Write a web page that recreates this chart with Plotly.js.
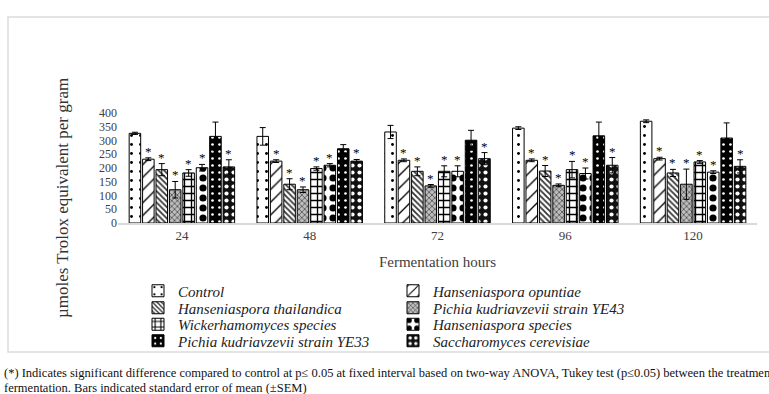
<!DOCTYPE html>
<html>
<head>
<meta charset="utf-8">
<script src="https://cdn.plot.ly/plotly-3.0.1.min.js"></script>
<style>html,body{margin:0;padding:0;background:#fff;}#chart{width:769px;height:394px;}</style>
</head>
<body>
<div id="chart"></div>
<script>
// ---- Data ----
const hours = ['24', '48', '72', '96', '120'];
const seriesNames = [
  'Control',
  'Hanseniaspora opuntiae',
  'Hanseniaspora thailandica',
  'Pichia kudriavzevii strain YE43',
  'Wickerhamomyces species',
  'Hanseniaspora species',
  'Pichia kudriavzevii strain YE33',
  'Saccharomyces cerevisiae'
];
const control      = [326, 315, 331, 345, 370];
const hOpuntiae    = [232, 225, 228, 228, 234];
const hThailandica = [194, 141, 188, 189, 182];
const pkYE43       = [121, 121, 135, 137, 141];
const wickerham    = [182, 198, 188, 194, 222];
const hSpecies     = [201, 210, 188, 180, 185];
const pkYE33       = [315, 270, 301, 317, 309];
const sCerevisiae  = [204, 225, 234, 210, 206];

const errControl      = [4, 32, 24, 5, 5];
const errOpuntiae     = [5, 5, 5, 5, 5];
const errThailandica  = [22, 20, 16, 20, 13];
const errYE43         = [30, 10, 5, 5, 55];
const errWickerham    = [12, 6, 20, 30, 5];
const errSpecies      = [12, 6, 20, 20, 5];
const errYE33         = [52, 15, 36, 50, 55];
const errCerevisiae   = [26, 6, 22, 28, 24];

// significance flags (asterisk) per series, per hour
const sigControl     = [0,0,0,0,0];
const sigOpuntiae    = [1,1,1,1,1];
const sigThailandica = [1,1,1,1,1];
const sigYE43        = [1,1,1,1,1];
const sigWickerham   = [1,1,1,1,1];
const sigSpecies     = [1,1,1,1,1];
const sigYE33        = [0,0,0,0,0];
const sigCerevisiae  = [1,1,1,1,1];

const yTicks = [0, 50, 100, 150, 200, 250, 300, 350, 400];

const values = [control, hOpuntiae, hThailandica, pkYE43, wickerham, hSpecies, pkYE33, sCerevisiae];
const errors = [errControl, errOpuntiae, errThailandica, errYE43, errWickerham, errSpecies, errYE33, errCerevisiae];
const sigs   = [sigControl, sigOpuntiae, sigThailandica, sigYE43, sigWickerham, sigSpecies, sigYE33, sigCerevisiae];

// ---- Styles ----
const patterns = [
  {shape: '.', bgcolor: '#ffffff', fgcolor: '#000', size: 9, solidity: 0.08},
  {shape: '/', bgcolor: '#ffffff', fgcolor: '#000', size: 9, solidity: 0.15},
  {shape: '\\', bgcolor: '#ffffff', fgcolor: '#333', size: 4, solidity: 0.45},
  {shape: 'x', bgcolor: '#bdbdbd', fgcolor: '#333', size: 4, solidity: 0.3},
  {shape: '+', bgcolor: '#ffffff', fgcolor: '#000', size: 7, solidity: 0.35},
  {shape: '.', bgcolor: '#ffffff', fgcolor: '#000', size: 10, solidity: 0.4},
  {shape: '.', bgcolor: '#000000', fgcolor: '#fff', size: 7, solidity: 0.12},
  {shape: '.', bgcolor: '#111111', fgcolor: '#fff', size: 7, solidity: 0.28}
];

const W = 769, H = 394;
const M = {l: 118, r: 12, t: 113, b: 171, autoexpand: false};
const plotW = W - M.l - M.r, plotH = H - M.t - M.b;
const px2x = p => (p - M.l) / plotW;
const px2y = p => (H - M.b - p) / plotH;
const bargap = 0.16, bargroupgap = 0.14;
const serif = 'Liberation Serif, serif';

// legend placement: two columns, four rows (pixel positions of text start / row centre)
const legendColX = [178, 433];
const legendRowY = [291, 308, 324.5, 341];
const legendIds = seriesNames.map((n, i) => i === 0 ? 'legend' : 'legend' + (i + 1));

const traces = seriesNames.map((name, i) => ({
  type: 'bar',
  name: name,
  x: hours,
  y: values[i],
  legend: legendIds[i],
  error_y: {type: 'data', array: errors[i], visible: true, color: '#000', thickness: 1, width: 3},
  marker: {color: '#fff', line: {color: '#000', width: 1}, pattern: Object.assign({fillmode: 'replace'}, patterns[i])}
}));

// asterisks above bars, horizontally offset per series slot (x = category index)
const slot = (plotW / hours.length) * (1 - bargap) / seriesNames.length;
const annotations = [];
seriesNames.forEach((name, i) => {
  hours.forEach((h, j) => {
    if (sigs[i][j]) {
      annotations.push({
        x: j, y: values[i][j] + errors[i][j], xref: 'x', yref: 'y',
        xshift: (i - (seriesNames.length - 1) / 2) * slot, yshift: -3,
        text: '*', showarrow: false, yanchor: 'bottom',
        font: {family: serif, size: 13, color: '#000'}
      });
    }
  });
});

annotations.push({
  text: 'µmoles Trolox equivalent per gram', textangle: -90,
  xref: 'paper', yref: 'paper', x: px2x(62), y: px2y(198),
  xanchor: 'center', yanchor: 'middle', showarrow: false,
  font: {family: serif, size: 17, color: '#333'}
});
annotations.push({
  text: '(*) Indicates significant difference compared to control at p≤ 0.05 at fixed interval based on two-way ANOVA, Tukey test (p≤0.05) between the treatments during',
  xref: 'paper', yref: 'paper', x: px2x(2), y: px2y(373),
  xanchor: 'left', yanchor: 'middle', showarrow: false,
  font: {family: serif, size: 12.5, color: '#111'}
});
annotations.push({
  text: 'fermentation. Bars indicated standard error of mean (±SEM)',
  xref: 'paper', yref: 'paper', x: px2x(2), y: px2y(388),
  xanchor: 'left', yanchor: 'middle', showarrow: false,
  font: {family: serif, size: 12.5, color: '#111'}
});

const layout = {
  width: W, height: H,
  margin: M,
  paper_bgcolor: '#fff', plot_bgcolor: '#fff',
  barmode: 'group', bargap: bargap, bargroupgap: bargroupgap,
  showlegend: true,
  xaxis: {
    type: 'category', categoryorder: 'array', categoryarray: hours,
    range: [-0.5, hours.length - 0.5], automargin: false,
    showline: true, linecolor: '#d9d9d9', linewidth: 1.5,
    ticks: '', showgrid: false, zeroline: false,
    tickfont: {family: serif, size: 13, color: '#404040'},
    title: {text: 'Fermentation hours', font: {family: serif, size: 15, color: '#404040'}, standoff: 14}
  },
  yaxis: {
    range: [0, 400], tickvals: yTicks, ticktext: yTicks.map(String), automargin: false,
    showline: false, showgrid: false, zeroline: false, ticks: '',
    tickfont: {family: serif, size: 12, color: '#404040'}
  },
  shapes: [{
    type: 'rect', xref: 'paper', yref: 'paper',
    x0: px2x(8), x1: px2x(790), y0: px2y(352), y1: px2y(17),
    line: {color: '#dcdcdc', width: 1.5}, fillcolor: 'rgba(0,0,0,0)', layer: 'below'
  }],
  annotations: annotations
};

legendIds.forEach((id, i) => {
  const col = i % 2, row = Math.floor(i / 2);
  layout[id] = {
    xref: 'container', yref: 'container',
    x: (legendColX[col] - 40) / W, y: 1 - legendRowY[row] / H,
    xanchor: 'left', yanchor: 'middle',
    bgcolor: 'rgba(0,0,0,0)', borderwidth: 0,
    font: {family: serif, size: 15, color: '#222', style: 'italic'},
    itemwidth: 30
  };
});

Plotly.newPlot('chart', traces, layout, {staticPlot: true, displayModeBar: false});
</script>
</body>
</html>
